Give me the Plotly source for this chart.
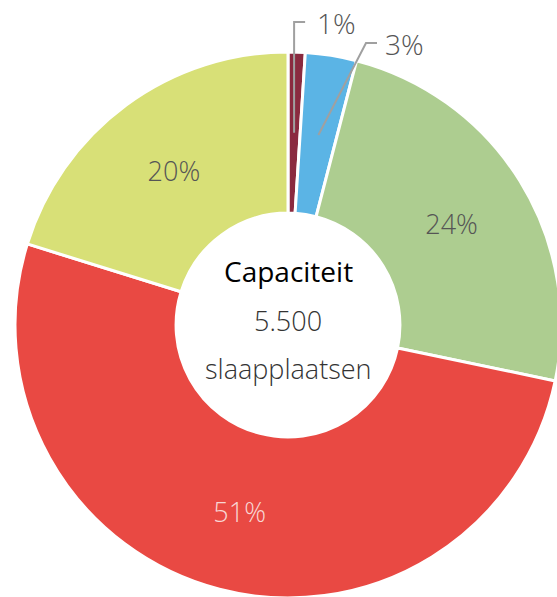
import math
import plotly.graph_objects as go

# ---- data ----
labels = ["Categorie 1", "Categorie 2", "Categorie 3", "Categorie 4", "Categorie 5"]
values = [1, 3, 24, 51, 20]
colors = ["#8A2A3F", "#5BB4E5", "#ADCD90", "#E94943", "#D8E077"]
center_lines = ["Capaciteit", "5.500", "slaapplaatsen"]
outside_idx = [0, 1]  # small slices labelled outside

# ---- geometry (pixels in figure coords) ----
W, H = 570, 610
CX, CY, R = 288, 325, 273
HOLE = 0.41

x0, x1 = (CX - R) / W, (CX + R) / W
y1, y0 = 1 - (CY - R) / H, 1 - (CY + R) / H

def px_to_paper(x, y):
    return x / W, 1 - y / H

text_inside = [("" if i in outside_idx else f"{v}%") for i, v in enumerate(values)]
text_colors = ["#555555", "#555555", "#555555", "#F8D6D4", "#555555"]

fig = go.Figure(go.Pie(
    labels=labels, values=values, hole=HOLE, sort=False, direction="clockwise",
    rotation=0,
    marker=dict(colors=colors, line=dict(color="white", width=3)),
    text=text_inside, textinfo="text", textposition="inside",
    insidetextorientation="horizontal",
    textfont=dict(family="Open Sans", size=27, color=text_colors, weight=300),
    domain=dict(x=[x0, x1], y=[y0, y1]),
    showlegend=False, hoverinfo="label+percent",
))

# leader lines + outside labels, computed from the data
total = sum(values)
cum = 0
mids = []
for v in values:
    mids.append((cum + v / 2) / total * 2 * math.pi)
    cum += v
r_mid = R * (1 + HOLE) / 2
for i in outside_idx:
    th = mids[i]
    px = CX + r_mid * math.sin(th)
    py = CY - r_mid * math.cos(th)
    if i == 0:
        ex, ey = px, 22
        gap = 10
    else:
        ex, ey = CX + 78, 43
        gap = 6
    hx = ex + 11
    pts = [px_to_paper(px, py), px_to_paper(ex, ey), px_to_paper(hx, ey)]
    path = "M {} {} L {} {} L {} {}".format(*[c for p in pts for c in p])
    fig.add_shape(type="path", path=path, xref="paper", yref="paper",
                  line=dict(color="#A0A0A0", width=2))
    lx, ly = px_to_paper(hx + gap, ey + 1)
    fig.add_annotation(x=lx, y=ly, xref="paper", yref="paper", text=f"{values[i]}%",
                       showarrow=False, xanchor="left", yanchor="middle",
                       font=dict(family="Open Sans", size=28, color="#555555", weight=300))

# centre text
offsets = [-54, -5, 43]
fonts = [dict(family="Open Sans", size=28, color="#000000"),
         dict(family="Open Sans", size=27, color="#333333", weight=300),
         dict(family="Open Sans", size=27, color="#333333", weight=300)]
for t, dy, f in zip(center_lines, offsets, fonts):
    ax, ay = px_to_paper(CX, CY + dy)
    fig.add_annotation(x=ax, y=ay, xref="paper", yref="paper", text=t, showarrow=False,
                       xanchor="center", yanchor="middle", font=f)

fig.update_layout(width=W, height=H, margin=dict(l=0, r=0, t=0, b=0),
                  paper_bgcolor="white", plot_bgcolor="white")
fig.write_html(
    "out.html",
    config={"displayModeBar": False},
    post_script=("document.body.style.margin='0';"
                 "document.body.style.overflow='hidden';"
                 "document.documentElement.style.overflow='hidden';"),
)
